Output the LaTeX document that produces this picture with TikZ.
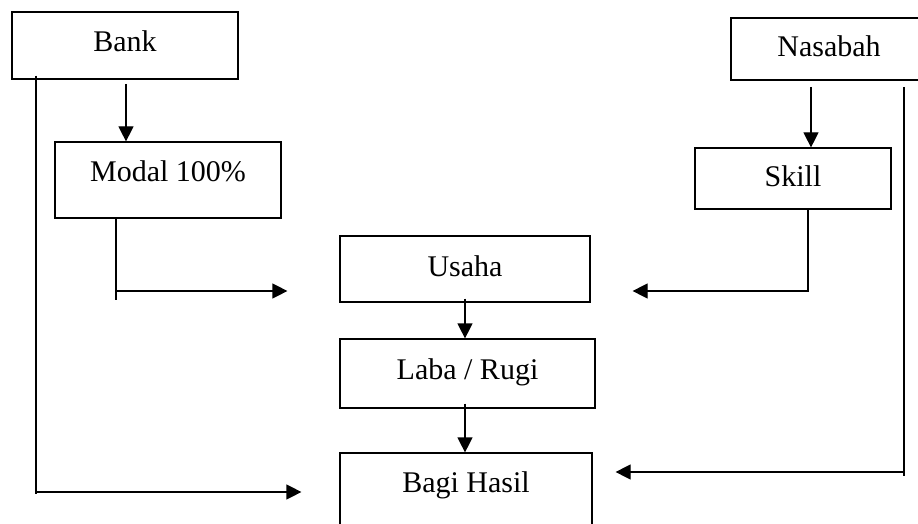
\documentclass[tikz,border=0pt]{standalone}
\usepackage{fontspec}
\setmainfont{Liberation Serif}
\usetikzlibrary{arrows.meta,positioning}
\tikzset{
    box/.style={
           rectangle,
           draw=black,
           inner sep=0pt,
           text height=20pt,
           font=\fontsize{30}{36}\selectfont,
           text centered,
           },
}

\begin{document}
\begin{tikzpicture}[
  x=1pt,y=-1pt,
  line width=1.2pt,
  >={Triangle[length=15pt,width=15pt]}]
\useasboundingbox (0,0) rectangle (918,524);

\node[box,minimum width=226pt,minimum height=67pt,text depth=7pt] (bank) at (125,45.5) {Bank};
\node[box,minimum width=226pt,minimum height=76pt,text depth=17pt,below of=bank,node distance=134.5pt,xshift=43pt] (modal) {Modal 100\%};
\node[box,minimum width=196pt,minimum height=62pt,text depth=4.6pt] (nasabah) at (829,49) {Nasabah};
\node[box,minimum width=196pt,minimum height=61pt,text depth=3.6pt,below of=nasabah,node distance=129.5pt,xshift=-36pt] (skill) {Skill};
\node[box,minimum width=250pt,minimum height=66pt,text depth=5pt] (usaha) at (465,269) {Usaha};
\node[box,minimum width=255pt,minimum height=69pt,text depth=9pt,below of=usaha,node distance=104.5pt,xshift=2.5pt] (laba) {Laba / Rugi};
\node[box,minimum width=252pt,minimum height=77pt,text depth=19pt,below of=laba,node distance=118pt,xshift=-1.5pt] (bagi) {Bagi Hasil};

% free ends of the connectors
\coordinate (btop) at (126,84);
\coordinate (ntop) at (811,87);
\coordinate (bturn) at (36,492);
\coordinate (mturn) at (116,291);
\coordinate (sturn) at (808,291);
\coordinate (nturn) at (904,472);

\path[->] (btop) edge (btop |- modal.north)
      (ntop) edge (ntop |- skill.north)
      ([yshift=4pt]usaha.south) edge (usaha.south |- laba.north)
      ([yshift=5pt]usaha.south |- laba.south) edge (usaha.south |- bagi.north);

\draw[->] ([yshift=4pt]bank.south -| bturn) |- ([xshift=-38pt]bagi.west |- bturn);
\draw (bturn) -- ++(0,2);
\draw (modal.south -| mturn) -- ++(0,81);
\draw[->] (mturn) -- ([xshift=-52pt]usaha.west |- mturn);
\draw[->] (skill.south -| sturn) |- ([xshift=42pt]usaha.east |- sturn);
\draw[->] (nturn |- ntop) |- ([xshift=23pt]bagi.east |- nturn);
\draw (nturn) -- ++(0,4);
\end{tikzpicture}
\end{document}
